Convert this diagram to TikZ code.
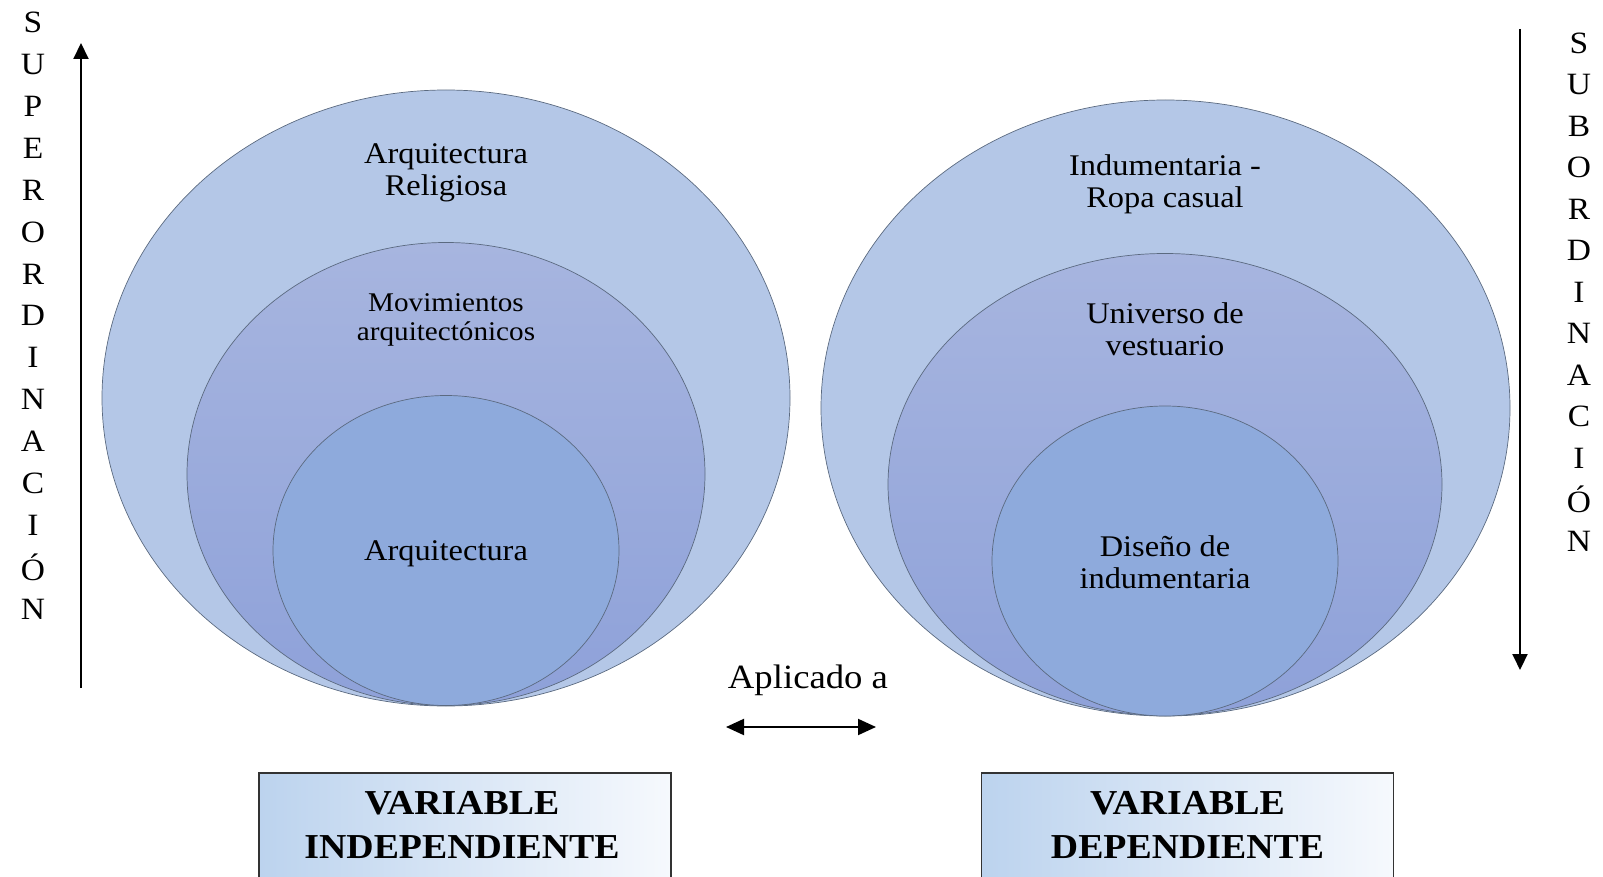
\documentclass[tikz,border=0pt]{standalone}
\usepackage{fontspec}
\setmainfont[FakeStretch=1.08]{Liberation Serif}
\usetikzlibrary{arrows.meta,shapes.geometric,positioning}
\definecolor{OuterBlue}{HTML}{B4C7E7}
\definecolor{MidTop}{HTML}{A7B5DF}
\definecolor{MidBot}{HTML}{8EA1D9}
\definecolor{InnerBlue}{HTML}{8EAADC}
\definecolor{RimGray}{HTML}{5B6A80}
\definecolor{BoxBlue}{HTML}{BCD3EE}
\definecolor{BoxWhite}{HTML}{F6F9FD}

\tikzset{
  ring/.style={ellipse,draw=RimGray,line width=0.7pt,inner sep=0pt},
  outerring/.style={ring,fill=OuterBlue},
  midring/.style={ring,top color=MidTop,bottom color=MidBot},
  innerring/.style={ring,fill=InnerBlue},
  lbl/.style={align=center,inner sep=0pt,font=\fontsize{30}{32}\selectfont},
  vletter/.style={inner sep=0pt,font=\fontsize{31}{31}\selectfont},
  axisarrow/.style={line width=2pt,-{Triangle[length=16pt,width=15pt]}},
  varbox/.style={draw=black!80,line width=1.6pt,left color=BoxBlue,right color=BoxWhite,
    minimum width=412pt,minimum height=140pt,anchor=north},
  vartext/.style={align=center,inner sep=0pt,font=\fontsize{35}{44}\selectfont\bfseries}
}

\begin{document}
\begin{tikzpicture}[x=1pt,y=-1pt]
  \useasboundingbox (0,0) rectangle (1603,877);

  % left side: superordinacion
  \node[outerring,minimum width=688pt,minimum height=616pt] (relig) at (446,398) {};
  \node[midring,minimum width=518pt,minimum height=463pt] (movim) at (446,474) {};
  \node[innerring,minimum width=346pt,minimum height=310pt] (arqui) at (446,550.5) {};
  \node[lbl] (religtxt) at (446,173) {Arquitectura\\Religiosa};
  \node[lbl,font=\fontsize{27}{29}\selectfont] (movimtxt) at (446,320) {Movimientos\\arquitectónicos};
  \node[lbl] (arquitxt) at (446,554) {Arquitectura};

  % right side: subordinacion
  \node[outerring,minimum width=689pt,minimum height=616pt] (indum) at (1165.5,408) {};
  \node[midring,minimum width=554pt,minimum height=462pt] (vestu) at (1165,484.5) {};
  \node[innerring,minimum width=346pt,minimum height=310pt] (disen) at (1165,561) {};
  \node[lbl] (indumtxt) at (1165,184) {Indumentaria -\\Ropa casual};
  \node[lbl] (vestutxt) at (1165,329) {Universo de\\vestuario};
  \node[lbl] (disentxt) at (1165,562) {Diseño de\\indumentaria};

  % vertical letters
  \foreach \c [count=\i from 0] in {S,U,P,E,R,O,R,D,I,N,A,C,I,Ó,N}
    \node[vletter] (sup\i) at (33,{22.5+41.9*\i}) {\c};
  \foreach \c [count=\i from 0] in {S,U,B,O,R,D,I,N,A,C,I,Ó,N}
    \node[vletter] (sub\i) at (1579,{43+41.5*\i}) {\c};

  \coordinate (supbot) at (81,688);
  \coordinate (suptop) at (81,43);
  \draw[axisarrow] (supbot) -- (suptop);
  \coordinate (subtop) at (1520,29);
  \coordinate (subbot) at (1520,670);
  \draw[axisarrow] (subtop) -- (subbot);

  % aplicado a
  \node[inner sep=0pt,font=\fontsize{34}{36}\selectfont] (aplic) at (808,680) {Aplicado a};
  \coordinate (aplL) at (726,727);
  \coordinate (aplR) at (876,727);
  \draw[line width=2pt,{Triangle[length=18pt,width=16pt]}-{Triangle[length=18pt,width=16pt]}] (aplL) -- (aplR);

  % variables
  \node[varbox] (indep) at (465,772) {};
  \node[vartext] (indeptxt) at (462,824.5) {VARIABLE\\INDEPENDIENTE};
  \node[varbox] (depen) at (1187.5,772) {};
  \node[vartext] (depentxt) at (1187.5,824.5) {VARIABLE\\DEPENDIENTE};
\end{tikzpicture}
\end{document}
